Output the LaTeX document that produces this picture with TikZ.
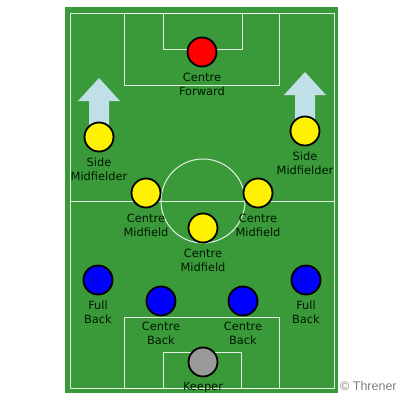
\documentclass[tikz,border=0pt]{standalone}
\usepackage{fontspec}
\setsansfont{DejaVu Sans}
\newfontfamily\credfont{Liberation Sans}
\usetikzlibrary{positioning}
\definecolor{pitch}{RGB}{58,154,58}
\definecolor{runblue}{RGB}{190,224,230}
\definecolor{keepergray}{RGB}{153,153,153}
\begin{document}
\begin{tikzpicture}[x=1pt,y=-1pt,
    player/.style={circle,draw=black,line width=1.8pt,fill=#1,minimum size=29pt,inner sep=0pt},
    tag/.style={align=center,font=\sffamily\fontsize{11.4}{14.5}\selectfont,inner sep=1pt,text=black!90!green},
    pline/.style={draw=white,draw opacity=0.85,line width=1pt},
    runarrow/.style={fill=runblue},
    node distance=4pt]
    \useasboundingbox (0,0) rectangle (400,400);
    \fill[pitch] (65,7) rectangle (338,393);
    % lignes du terrain
    \draw[pline] (70,13) rectangle (334,388);
    \draw[pline] (70,201) -- (334,201);
    \draw[pline] (203,201) circle[radius=42];
    \draw[pline] (124,13) rectangle (279,85);
    \draw[pline] (163,13) rectangle (242,49);
    \draw[pline] (124,317) rectangle (279,388);
    \draw[pline] (163,352) rectangle (241,388);
    % fleches de course
    \coordinate (lsmc) at (99,137);
    \coordinate (rsmc) at (305,131);
    \fill[runarrow] ([xshift=-10pt]lsmc) -- ++(0,-36) -- ++(-11,0) -- ++(21,-23) -- ++(21,23) -- ++(-11,0) -- ([xshift=10pt]lsmc) -- cycle;
    \fill[runarrow] ([xshift=-10pt]rsmc) -- ++(0,-36) -- ++(-11,0) -- ++(21,-23) -- ++(21,23) -- ++(-11,0) -- ([xshift=10pt]rsmc) -- cycle;
    % joueurs
    \node[player=red] (cf) at (202,52) {};
    \node[player=yellow] (lsm) at (lsmc) {};
    \node[player=yellow] (rsm) at (rsmc) {};
    \node[player=yellow] (lcm) at (146,193) {};
    \node[player=yellow] (rcm) at (258,193) {};
    \node[player=yellow] (ccm) at (203,228) {};
    \node[player=blue] (lfb) at (98,280) {};
    \node[player=blue] (rfb) at (306,280) {};
    \node[player=blue] (lcb) at (161,301) {};
    \node[player=blue] (rcb) at (243,301) {};
    \node[player=keepergray] (gk) at (203,362) {};
    % noms
    \node[tag, below=of cf] (cft) {Centre\\Forward};
    \node[tag, below=of lsm] (lsmt) {Side\\Midfielder};
    \node[tag, below=of rsm] (rsmt) {Side\\Midfielder};
    \node[tag, below=of lcm] (lcmt) {Centre\\Midfield};
    \node[tag, below=of rcm] (rcmt) {Centre\\Midfield};
    \node[tag, below=of ccm] (ccmt) {Centre\\Midfield};
    \node[tag, below=of lfb] (lfbt) {Full\\Back};
    \node[tag, below=of rfb] (rfbt) {Full\\Back};
    \node[tag, below=of lcb] (lcbt) {Centre\\Back};
    \node[tag, below=of rcb] (rcbt) {Centre\\Back};
    \node[tag, below=of gk] (gkt) {Keeper};
    \node[anchor=west, inner sep=1pt, text=gray, font=\credfont\fontsize{12.5}{14}\selectfont] (cred) at (339,386) {© Threner};
\end{tikzpicture}
\end{document}
